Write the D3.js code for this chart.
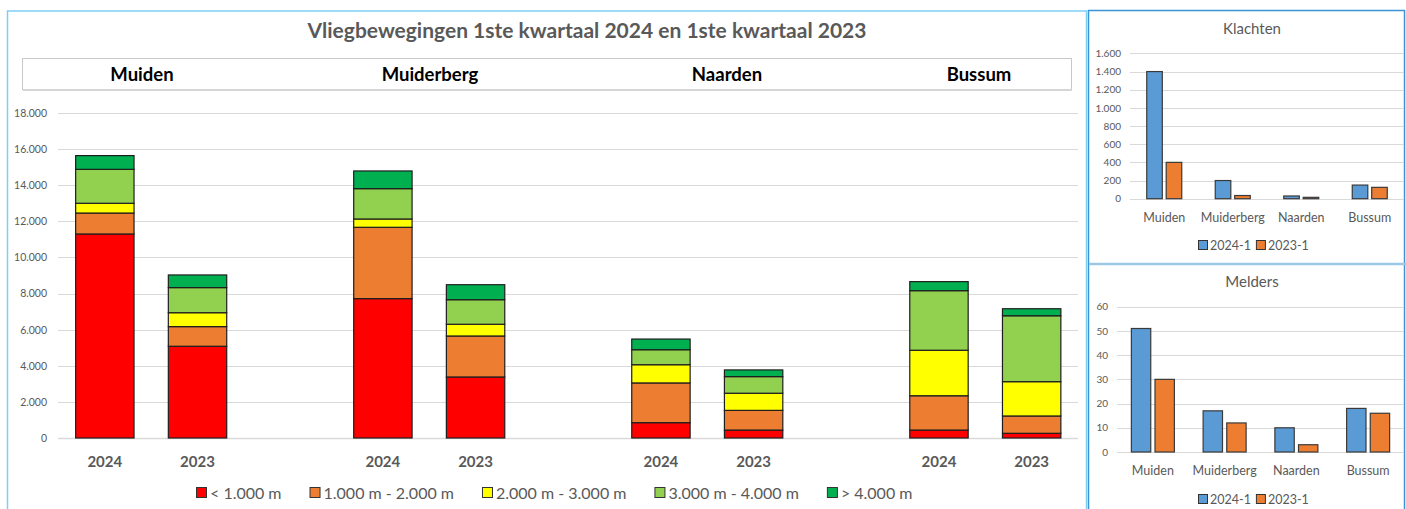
<!DOCTYPE html>
<html lang="nl">
<head>
<meta charset="UTF-8">
<script src="https://d3js.org/d3.v7.min.js"></script>
<style>
  body { margin: 0; background: #fff; }
  svg { display: block; font-family: Lato, "Open Sans", sans-serif; }
</style>
</head>
<body>
<svg id="chart" width="1406" height="509"></svg>
<script>
// ---- data ----
const places = ["Muiden", "Muiderberg", "Naarden", "Bussum"];
const years = ["2024", "2023"];
const bands = ["< 1.000 m", "1.000 m - 2.000 m", "2.000 m - 3.000 m", "3.000 m - 4.000 m", "> 4.000 m"];
const bandColors = ["#ff0000", "#ed7d31", "#ffff00", "#92d050", "#00b050"];

// movements per band, order: Muiden 24, Muiden 23, Muiderberg 24, Muiderberg 23, ...
const lt1000 = [11300, 5080, 7720, 3380, 850, 440, 440, 260];
const m1000_2000 = [1160, 1090, 3950, 2270, 2200, 1090, 1900, 960];
const m2000_3000 = [540, 770, 460, 650, 1010, 950, 2520, 1900];
const m3000_4000 = [1880, 1390, 1680, 1360, 830, 920, 3300, 3650];
const gt4000 = [760, 700, 980, 830, 590, 370, 500, 390];
const mainTicks = [0, 2000, 4000, 6000, 8000, 10000, 12000, 14000, 16000, 18000];

const smallSeries = ["2024-1", "2023-1"];
const smallColors = ["#5b9bd5", "#ed7d31"];
const klachten2024 = [1400, 200, 30, 150];
const klachten2023 = [400, 35, 15, 125];
const klachtenTicks = [0, 200, 400, 600, 800, 1000, 1200, 1400, 1600];
const melders2024 = [51, 17, 10, 18];
const melders2023 = [30, 12, 3, 16];
const meldersTicks = [0, 10, 20, 30, 40, 50, 60];

const fmt = d3.formatLocale({decimal: ",", thousands: ".", grouping: [3], currency: ["€", ""]}).format(",d");
const grey = "#595959";
const svg = d3.select("#chart");

// ---- main chart ----
function mainChart() {
  const g = svg.append("g");
  g.append("rect").attr("x", 7.5).attr("y", 11).attr("width", 1079).attr("height", 520)
    .attr("fill", "#fff").attr("stroke", "#7fcff5").attr("stroke-width", 1.5);

  g.append("text").attr("x", 587).attr("y", 38).attr("text-anchor", "middle")
    .attr("fill", grey).style("font-size", "21px").style("font-weight", "bold")
    .text("Vliegbewegingen 1ste kwartaal 2024 en 1ste kwartaal 2023");

  // header strip with place names
  g.append("rect").attr("x", 22.5).attr("y", 58.5).attr("width", 1049).attr("height", 31)
    .attr("fill", "#fff").attr("stroke", "#c8c8c8");
  g.append("line").attr("x1", 23).attr("x2", 1072).attr("y1", 90).attr("y2", 90)
    .attr("stroke", "#d6d6d6").attr("stroke-width", 2);
  const headerX = [142, 430, 727, 979];
  g.selectAll(".hdr").data(places).join("text")
    .attr("x", (d, i) => headerX[i]).attr("y", 81).attr("text-anchor", "middle")
    .style("font-size", "18.5px").style("font-weight", "bold").attr("fill", "#000").text(d => d);

  // category slots: 2024, 2023, gap, ...
  const slots = [];
  places.forEach((p, i) => {
    years.forEach(y => slots.push(p + "|" + y));
    if (i < places.length - 1) slots.push("gap" + i);
  });
  const x = d3.scaleBand().domain(slots).range([58.5, 1078]).paddingInner(0.37).paddingOuter(0.185);
  const y = d3.scaleLinear().domain([0, 18000]).range([438, 113]);

  g.append("g").selectAll("line").data(mainTicks).join("line")
    .attr("x1", 58).attr("x2", 1078).attr("y1", d => Math.round(y(d)) + 0.5).attr("y2", d => Math.round(y(d)) + 0.5)
    .attr("stroke", "#d9d9d9").attr("stroke-width", d => d === 0 ? 1.5 : 1);

  const yAxis = g.append("g").attr("transform", "translate(47,0)")
    .call(d3.axisLeft(y).tickValues(mainTicks).tickFormat(fmt).tickSize(0).tickPadding(0));
  yAxis.select(".domain").remove();
  yAxis.selectAll("text").attr("fill", grey).style("font-size", "10.5px").style("font-family", "Lato, sans-serif");

  const table = slots.filter(s => !s.startsWith("gap")).map((s, i) => ({
    key: s, year: s.split("|")[1],
    v: [lt1000[i], m1000_2000[i], m2000_3000[i], m3000_4000[i], gt4000[i]]
  }));
  const stack = d3.stack().keys(d3.range(bands.length)).value((d, k) => d.v[k])(table);

  g.append("g").selectAll("g").data(stack).join("g")
    .attr("fill", (d, i) => bandColors[i])
    .selectAll("rect").data(d => d).join("rect")
    .attr("x", d => x(d.data.key)).attr("width", x.bandwidth())
    .attr("y", d => y(d[1])).attr("height", d => y(d[0]) - y(d[1]))
    .attr("stroke", "#1e1e1e").attr("stroke-width", 1.2);

  g.append("g").selectAll("text").data(table).join("text")
    .attr("x", d => x(d.key) + x.bandwidth() / 2).attr("y", 467).attr("text-anchor", "middle")
    .attr("fill", grey).style("font-size", "15px").style("font-weight", "bold").text(d => d.year);

  // legend
  const leg = g.append("g").attr("transform", "translate(0,493)");
  let lx = 196;
  bands.forEach((b, i) => {
    leg.append("rect").attr("x", lx + 0.5).attr("y", -5.5).attr("width", 10).attr("height", 10)
      .attr("fill", bandColors[i]).attr("stroke", "#333").attr("stroke-width", 1);
    const t = leg.append("text").attr("x", lx + 14).attr("y", 6).attr("fill", grey)
      .style("font-size", "16px").text(b);
    lx += 14 + t.node().getComputedTextLength() + 28;
  });
}

// ---- small charts ----
function smallChart(top, title, v24, v23, ticks, opt) {
  const g = svg.append("g");
  g.append("text").attr("x", 1252).attr("y", top + opt.titleY).attr("text-anchor", "middle")
    .attr("fill", grey).style("font-size", "15px").text(title);

  const y = d3.scaleLinear().domain([0, ticks[ticks.length - 1]]).range([top + opt.y0, top + opt.y0 - 145.3]);
  const x0 = d3.scaleBand().domain(places).range([opt.left, 1404]);
  const x1 = d3.scaleBand().domain(smallSeries).range([0, opt.pair]).paddingInner(opt.inner);

  g.append("g").selectAll("line").data(ticks).join("line")
    .attr("x1", opt.left).attr("x2", 1404).attr("y1", d => Math.round(y(d)) + 0.5).attr("y2", d => Math.round(y(d)) + 0.5)
    .attr("stroke", "#d9d9d9");

  const ax = g.append("g").attr("transform", `translate(${opt.left - 9},0)`)
    .call(d3.axisLeft(y).tickValues(ticks).tickFormat(fmt).tickSize(0).tickPadding(0));
  ax.select(".domain").remove();
  ax.selectAll("text").attr("fill", grey).style("font-size", "10px").style("font-family", "Lato, sans-serif");

  const rows = places.map((p, i) => ({place: p, vals: [v24[i], v23[i]]}));
  g.append("g").selectAll("g").data(rows).join("g")
    .attr("transform", d => `translate(${x0(d.place) + (x0.bandwidth() - opt.pair) / 2},0)`)
    .selectAll("rect").data(d => d.vals.map((v, k) => ({s: smallSeries[k], v, k}))).join("rect")
    .attr("x", d => x1(d.s)).attr("width", x1.bandwidth())
    .attr("y", d => y(d.v)).attr("height", d => y(0) - y(d.v))
    .attr("fill", d => smallColors[d.k]).attr("stroke", "#3a3a3a").attr("stroke-width", 1.2);

  g.append("g").selectAll("text").data(places).join("text")
    .attr("x", d => x0(d) + x0.bandwidth() / 2).attr("y", top + opt.labelY).attr("text-anchor", "middle")
    .attr("fill", grey).style("font-size", "12.5px").text(d => d);

  let lx = 1198;
  smallSeries.forEach((s, i) => {
    g.append("rect").attr("x", lx + 0.5).attr("y", top + opt.legY - 4.5).attr("width", 9).attr("height", 9)
      .attr("fill", smallColors[i]).attr("stroke", "#333");
    const t = g.append("text").attr("x", lx + 12).attr("y", top + opt.legY + 4.5)
      .attr("fill", grey).style("font-size", "12.5px").text(s);
    lx += 12 + t.node().getComputedTextLength() + 5;
  });
}

// panel frames
svg.append("rect").attr("x", 1088.5).attr("y", 10.5).attr("width", 316).attr("height", 520)
  .attr("fill", "#fff").attr("stroke", "#3a95d8").attr("stroke-width", 1.5);
svg.append("line").attr("x1", 1089).attr("x2", 1406).attr("y1", 264).attr("y2", 264)
  .attr("stroke", "#9cc8e6").attr("stroke-width", 2.5);

mainChart();
smallChart(0, "Klachten", klachten2024, klachten2023, klachtenTicks,
  {titleY: 34, y0: 198.7, left: 1130, pair: 35, inner: 0.2, labelY: 222, legY: 245});
smallChart(260, "Melders", melders2024, melders2023, meldersTicks,
  {titleY: 27, y0: 192, left: 1117, pair: 43, inner: 0.18, labelY: 215, legY: 239});
</script>
</body>
</html>
